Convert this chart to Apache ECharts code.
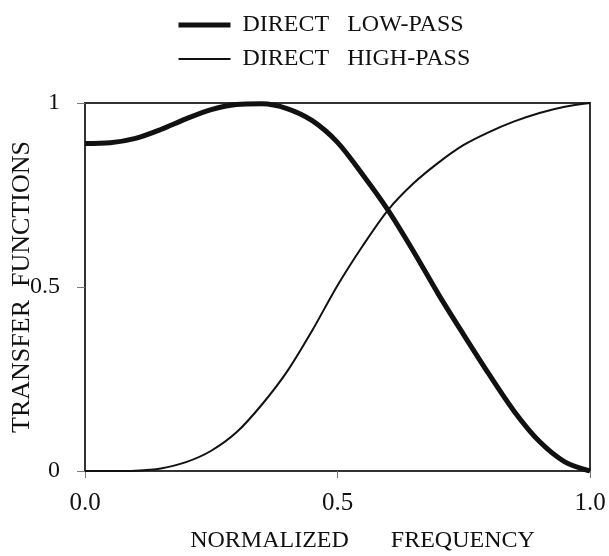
<!DOCTYPE html>
<html>
<head>
<meta charset="utf-8">
<script src="https://cdn.jsdelivr.net/npm/echarts@6/dist/echarts.min.js"></script>
<style>html,body{margin:0;padding:0;background:#fff;}#c{width:609px;height:556px;}</style>
</head>
<body>
<div id="c"></div>
<script>
var freq = [0,0.05,0.1,0.15,0.2,0.25,0.3,0.35,0.4,0.45,0.5,0.55,0.6,0.65,0.7,0.75,0.8,0.85,0.9,0.95,1.0];
var lowPass = [0.89,0.892,0.904,0.928,0.957,0.982,0.996,0.998,0.985,0.952,0.893,0.805,0.709,0.598,0.48,0.37,0.263,0.162,0.08,0.025,0.0];
var highPass = [0,0,0.001,0.007,0.024,0.055,0.105,0.18,0.27,0.382,0.504,0.612,0.709,0.781,0.838,0.886,0.921,0.95,0.973,0.99,1.0];
var xTicks = {0:'0.0',0.5:'0.5',1:'1.0'};
var yTicks = {0:'0',0.5:'0.5',1:'1'};
var seriesNames = ['DIRECT   LOW-PASS','DIRECT   HIGH-PASS'];
var xTitle = 'NORMALIZED       FREQUENCY';
var yTitle = 'TRANSFER  FUNCTIONS';

function pairs(ys){ return freq.map(function(f,i){ return [f, ys[i]]; }); }
var FONT = 'Liberation Serif';
var chart = echarts.init(document.getElementById('c'), null, {renderer:'canvas'});
chart.setOption({
  animation: false,
  backgroundColor: '#fff',
  textStyle: {fontFamily: FONT, color: '#111'},
  legend: {
    orient: 'vertical', left: 171, top: 8,
    itemWidth: 52, itemHeight: 14, itemGap: 10,
    itemStyle: {color: 'rgba(0,0,0,0)', borderWidth: 0, opacity: 0},
    textStyle: {fontFamily: FONT, fontSize: 24, color: '#111', padding: [0,0,0,7]},
    data: [
      {name: seriesNames[0], lineStyle: {width: 5, color: '#111'}},
      {name: seriesNames[1], lineStyle: {width: 2, color: '#111'}}
    ]
  },
  grid: {left: 85, right: 19, top: 103, bottom: 85, show: true, borderColor: '#333', borderWidth: 2, outerBoundsMode: 'none', containLabel: false},
  xAxis: {
    type: 'value', min: 0, max: 1, interval: 0.5,
    name: xTitle, nameLocation: 'middle', nameGap: 58, nameMoveOverlap: false,
    nameTextStyle: {fontFamily: FONT, fontSize: 24, color: '#111', padding: [0,0,0,50]},
    axisLine: {show: true, onZero: false, lineStyle: {color: '#333', width: 2}},
    axisTick: {show: true, length: 7, lineStyle: {color: '#777', width: 1}},
    axisLabel: {fontFamily: FONT, fontSize: 25, color: '#111', margin: 20, formatter: function(v){ return xTicks[v] !== undefined ? xTicks[v] : ''; }},
    splitLine: {show: false}
  },
  yAxis: {
    type: 'value', min: 0, max: 1, interval: 0.5,
    name: yTitle, nameLocation: 'middle', nameGap: 50, nameMoveOverlap: false,
    nameTextStyle: {fontFamily: FONT, fontSize: 26, color: '#111'},
    axisLine: {show: true, lineStyle: {color: '#333', width: 2}},
    axisTick: {show: true, length: 8, lineStyle: {color: '#777', width: 1}},
    axisLabel: {fontFamily: FONT, fontSize: 24, color: '#111', margin: 25, formatter: function(v){ return yTicks[v] !== undefined ? yTicks[v] : ''; }},
    splitLine: {show: false}
  },
  series: [
    {name: seriesNames[0], type: 'line', data: pairs(lowPass), smooth: 0.3, symbol: 'none', lineStyle: {color: '#111', width: 5}, itemStyle: {color: '#111'}},
    {name: seriesNames[1], type: 'line', data: pairs(highPass), smooth: 0.3, symbol: 'none', lineStyle: {color: '#111', width: 2}, itemStyle: {color: '#111'}}
  ]
});
</script>
</body>
</html>
